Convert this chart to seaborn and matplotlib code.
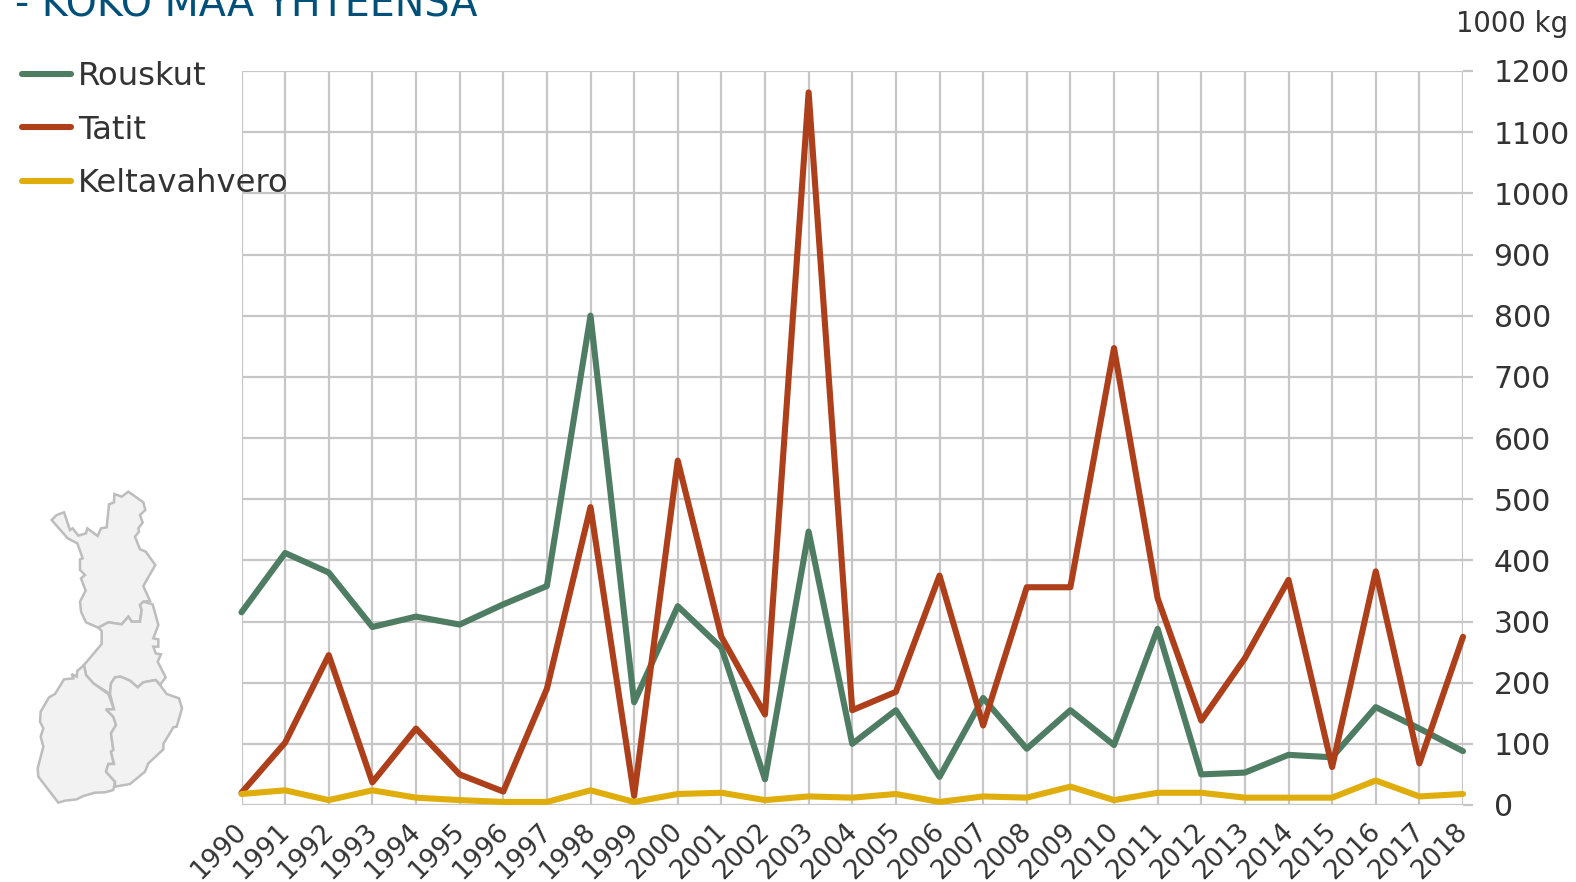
import matplotlib
matplotlib.use('Agg')
import matplotlib.pyplot as plt
from matplotlib.patches import Polygon
from matplotlib.transforms import ScaledTranslation

import pandas as pd
import seaborn as sns

years = list(range(1990, 2019))
rouskut = [315, 412, 380, 291, 308, 295, 328, 358, 800, 168, 325, 257, 42, 447, 100,
           155, 46, 175, 92, 155, 98, 288, 50, 53, 82, 78, 160, 125, 88]
tatit = [20, 102, 245, 37, 125, 50, 22, 190, 487, 15, 563, 275, 148, 1165, 155,
         185, 375, 130, 356, 356, 747, 338, 138, 240, 368, 62, 382, 68, 275]
keltavahvero = [18, 24, 8, 24, 12, 8, 5, 5, 24, 5, 18, 20, 8, 14, 12,
                18, 5, 14, 12, 30, 8, 20, 20, 12, 12, 12, 40, 14, 18]
y_ticks = list(range(0, 1300, 100))
colors = {'Rouskut': '#4f7d63', 'Tatit': '#ae3f1b', 'Keltavahvero': '#e0ae0c'}

# map outline, traced in pixels of a 3x crop starting at (0, 470)
lappi = [(155, 150), (170, 135), (192, 127), (210, 180), (218, 175), (235, 197), (258, 190), (262, 175),
         (293, 198), (303, 175), (320, 172), (327, 103), (342, 97), (343, 72), (365, 80), (385, 65),
         (430, 97), (436, 120), (420, 135), (428, 158), (415, 175), (417, 185), (405, 200), (420, 238),
         (437, 245), (466, 285), (430, 348), (450, 393), (430, 395), (420, 405), (425, 420), (420, 455),
         (395, 455), (385, 440), (365, 463), (325, 457), (295, 473), (258, 457), (243, 425), (240, 395),
         (257, 362), (243, 325), (255, 315), (240, 300), (240, 268), (248, 265), (232, 220), (203, 205)]
middle = [(295, 473), (325, 457), (365, 463), (385, 440), (395, 455), (420, 455), (425, 420), (420, 405),
          (430, 395), (458, 403), (475, 465), (460, 505), (475, 508), (475, 530), (460, 530), (467, 550),
          (483, 553), (473, 575), (497, 622), (480, 645), (467, 630), (430, 637), (413, 652), (390, 632),
          (362, 620), (345, 622), (333, 640), (330, 672), (280, 640), (258, 615), (252, 585), (305, 522),
          (305, 483)]
south_west = [(252, 585), (258, 615), (280, 640), (325, 672), (342, 718), (318, 718), (340, 740), (348, 765),
              (333, 790), (340, 840), (333, 845), (342, 882), (325, 882), (318, 905), (345, 935), (340, 960),
              (315, 967), (285, 968), (250, 978), (230, 988), (195, 992), (175, 998), (115, 920), (113, 895),
              (130, 830), (122, 800), (130, 775), (120, 755), (122, 725), (147, 682), (165, 672), (192, 628),
              (220, 625), (215, 612), (230, 620), (232, 603)]
south_east = [(330, 672), (333, 640), (345, 622), (362, 620), (390, 632), (413, 652), (430, 637), (467, 630),
              (480, 645), (500, 672), (537, 685), (546, 715), (530, 770), (520, 772), (490, 822), (490, 838),
              (445, 880), (435, 905), (390, 942), (345, 950), (345, 935), (318, 905), (325, 882), (342, 882),
              (333, 845), (340, 840), (333, 790), (348, 765), (340, 740), (318, 718), (342, 718)]


def main():
    sns.set_theme(style='white')
    plt.rcParams['font.family'] = ['DejaVu Sans']
    W, H = 1576, 882
    text_color = '#333333'
    grid_color = '#c6c6c6'

    df = pd.DataFrame({'year': years, 'Rouskut': rouskut, 'Tatit': tatit, 'Keltavahvero': keltavahvero})
    long_df = df.melt('year', var_name='laji', value_name='kg')

    fig = plt.figure(figsize=(W / 100, H / 100), dpi=100)
    ax = fig.add_axes([241.5 / W, 1 - 805 / H, (1463 - 241.5) / W, (805 - 71) / H])
    sns.lineplot(data=long_df, x='year', y='kg', hue='laji', palette=colors, linewidth=4.4, ax=ax,
                 solid_joinstyle='round', solid_capstyle='round', clip_on=False)

    ax.set_xlim(1990, 2018)
    ax.set_ylim(0, 1200)
    ax.set_xlabel('')
    ax.set_ylabel('')
    ax.set_xticks(years)
    ax.set_yticks(y_ticks)
    ax.yaxis.tick_right()
    ax.grid(True, color=grid_color, linewidth=1.6)
    ax.set_axisbelow(True)
    sns.despine(ax=ax, left=True, right=True, top=True, bottom=True)
    ax.tick_params(axis='both', length=7, width=1.6, color=grid_color, labelcolor=text_color,
                   labelsize=21.5, pad=15)
    ax.tick_params(axis='x', pad=3, labelsize=19)
    # labels sit a little left of their ticks
    shift = ScaledTranslation(-6 / 72, 0, fig.dpi_scale_trans)
    for label in ax.get_xticklabels():
        label.set_rotation(45)
        label.set_ha('right')
        label.set_rotation_mode('anchor')
        label.set_transform(label.get_transform() + shift)

    handles, labels = ax.get_legend_handles_labels()
    leg = ax.legend(handles, labels, loc='upper left', bbox_to_anchor=(21.6 / W, 1 - 61 / H),
                    bbox_transform=fig.transFigure, frameon=False, fontsize=23.2, handlelength=1.53,
                    handletextpad=0.22, labelspacing=0.7, labelcolor=text_color,
                    borderpad=0, borderaxespad=0)
    for line in leg.get_lines():
        line.set_solid_capstyle('round')

    # overlay in pixel coordinates for the map and the loose texts
    over = fig.add_axes([0, 0, 1, 1], facecolor='none')
    over.set_xlim(0, W)
    over.set_ylim(H, 0)
    over.axis('off')
    for shape in [lappi, middle, south_west, south_east]:
        pts = [(x / 3, 470 + y / 3) for x, y in shape]
        over.add_patch(Polygon(pts, closed=True, facecolor='#f2f2f2', edgecolor='#bdbdbd', linewidth=1.8))

    over.text(15, 15, '- KOKO MAA YHTEENSÄ', color='#00507a', fontsize=28.5, ha='left', va='baseline')
    over.text(1568, 31.5, '1000 kg', color=text_color, fontsize=19.8, ha='right', va='baseline')

    fig.savefig('out.png', dpi=100)


if __name__ == '__main__':
    main()
